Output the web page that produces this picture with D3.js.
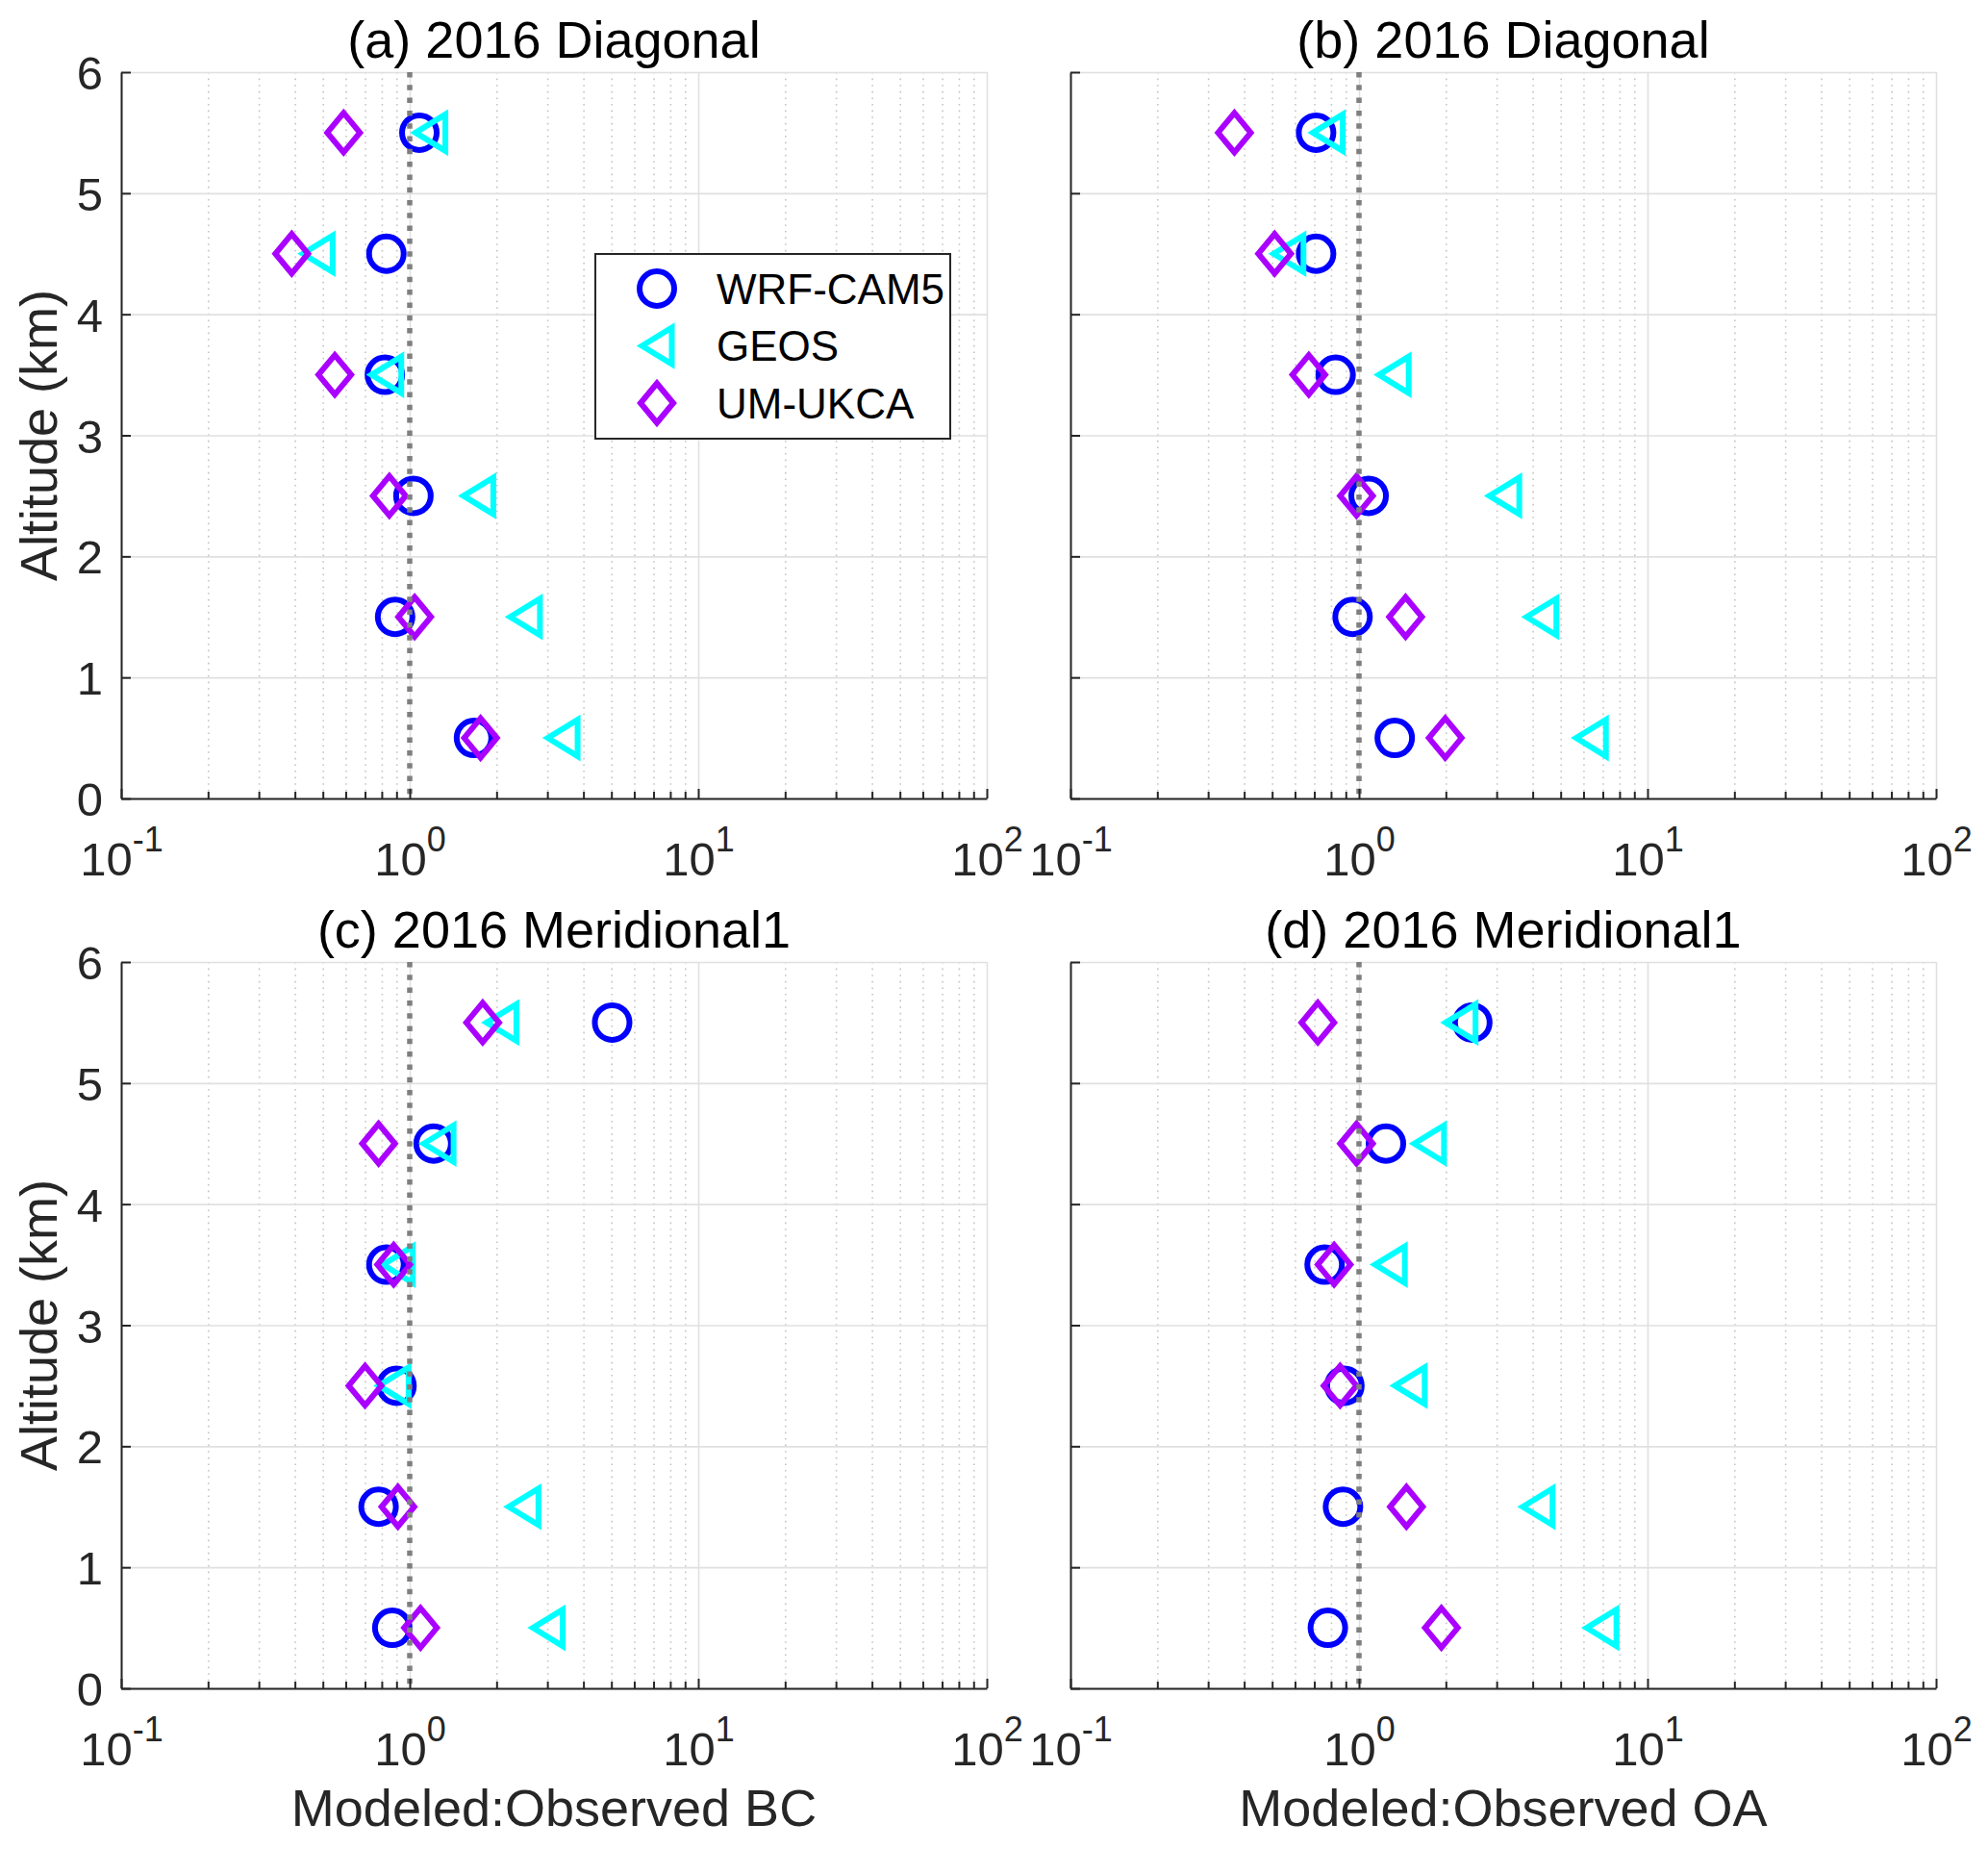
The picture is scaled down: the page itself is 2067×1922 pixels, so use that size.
<!DOCTYPE html>
<html>
<head>
<meta charset="utf-8">
<title>Modeled:Observed ratios by altitude</title>
<script src="https://d3js.org/d3.v7.min.js"></script>
<style>
  body { margin: 0; background: #fff; }
  svg { display: block; font-family: "Liberation Sans", Arial, Helvetica, sans-serif; }
</style>
</head>
<body>
<div id="chart"></div>
<script>
// altitude bins (km), one marker per model per bin
var altitudeKm = [0.5, 1.5, 2.5, 3.5, 4.5, 5.5];
var modelNames = ["WRF-CAM5", "GEOS", "UM-UKCA"];
var panelTitles = ["(a) 2016 Diagonal", "(b) 2016 Diagonal", "(c) 2016 Meridional1", "(d) 2016 Meridional1"];
var xAxisTitles = ["", "", "Modeled:Observed BC", "Modeled:Observed OA"];

// modeled:observed ratios, bottom (0.5 km) to top (5.5 km)
// (a) BC, diagonal
var wrfA  = [1.67, 0.89, 1.03, 0.82, 0.83, 1.08];
var geosA = [3.39, 2.51, 1.73, 0.83, 0.48, 1.18];
var umA   = [1.76, 1.04, 0.85, 0.55, 0.39, 0.59];
// (b) OA, diagonal
var wrfB  = [1.33, 0.95, 1.08, 0.83, 0.71, 0.71];
var geosB = [6.37, 4.29, 3.19, 1.32, 0.57, 0.78];
var umB   = [1.99, 1.45, 0.98, 0.67, 0.51, 0.37];
// (c) BC, meridional1
var wrfC  = [0.87, 0.78, 0.90, 0.83, 1.21, 5.03];
var geosC = [3.01, 2.48, 0.88, 0.91, 1.26, 2.08];
var umC   = [1.09, 0.91, 0.70, 0.88, 0.78, 1.79];
// (d) OA, meridional1
var wrfD  = [0.78, 0.88, 0.89, 0.76, 1.24, 2.47];
var geosD = [6.93, 4.16, 1.50, 1.28, 1.75, 2.25];
var umD   = [1.93, 1.46, 0.86, 0.82, 0.98, 0.72];

var xTicks = [0.1, 1, 10, 100];
var xTickExponents = ["-1", "0", "1", "2"];
var yTicks = [0, 1, 2, 3, 4, 5, 6];
var refRatio = 1;

var panelSeries = [
    [wrfA, geosA, umA],
    [wrfB, geosB, umB],
    [wrfC, geosC, umC],
    [wrfD, geosD, umD]
];

var modelColors = ["#0000ff", "#00ffff", "#aa00ff"];
var modelShapes = ["circle", "triangle", "diamond"];

var W = 2067, H = 1922;
var plotW = 900, plotH = 755;
var lefts = [126, 1113], tops = [75, 1000];
var axisColor = "#262626";

var svg = d3.select("#chart").append("svg")
    .attr("width", W)
    .attr("height", H);

svg.append("rect").attr("width", W).attr("height", H).attr("fill", "#fff");

// minor tick positions 2..9 in each decade
var minorTicks = [];
[0.1, 1, 10].forEach(function (d) {
    for (var k = 2; k <= 9; k++) minorTicks.push(+(d * k).toPrecision(3));
});

function drawMarker(sel, shape, color) {
    if (shape === "circle") {
        sel.append("circle").attr("r", 18)
            .attr("fill", "none").attr("stroke", color).attr("stroke-width", 6);
    } else if (shape === "triangle") {
        sel.append("path").attr("d", "M-15.5,0L15.5,-19L15.5,19Z")
            .attr("fill", "none").attr("stroke", color).attr("stroke-width", 6)
            .attr("stroke-linejoin", "miter");
    } else {
        sel.append("path").attr("d", "M0,-20.5L17,0L0,20.5L-17,0Z")
            .attr("fill", "none").attr("stroke", color).attr("stroke-width", 6)
            .attr("stroke-linejoin", "miter");
    }
}

panelSeries.forEach(function (series, i) {
    var col = i % 2, row = Math.floor(i / 2);
    var left = lefts[col], top = tops[row];

    var x = d3.scaleLog().domain([0.1, 100]).range([0, plotW]);
    var y = d3.scaleLinear().domain([0, 6]).range([plotH, 0]);

    var g = svg.append("g").attr("transform", "translate(" + left + "," + top + ")");

    // minor grid (dotted)
    var gMinor = g.append("g")
        .call(d3.axisBottom(x).tickValues(minorTicks).tickSize(plotH).tickFormat(""));
    gMinor.select(".domain").remove();
    gMinor.selectAll("line").attr("stroke", "#c4c4c4").attr("stroke-width", 1.6)
        .attr("stroke-dasharray", "1.6,5");

    // major grid
    var gMajX = g.append("g")
        .call(d3.axisBottom(x).tickValues(xTicks).tickSize(plotH).tickFormat(""));
    gMajX.select(".domain").remove();
    gMajX.selectAll("line").attr("stroke", "#e0e0e0").attr("stroke-width", 1.6);

    var gMajY = g.append("g")
        .call(d3.axisLeft(y).tickValues(yTicks).tickSize(-plotW).tickFormat(""));
    gMajY.select(".domain").remove();
    gMajY.selectAll("line").attr("stroke", "#e0e0e0").attr("stroke-width", 1.6);

    // markers: WRF-CAM5, then GEOS, then UM-UKCA on top
    series.forEach(function (vals, m) {
        var pts = altitudeKm.map(function (a, k) { return { alt: a, r: vals[k] }; });
        g.append("g").selectAll("g")
            .data(pts)
            .join("g")
            .attr("transform", function (d) { return "translate(" + x(d.r) + "," + y(d.alt) + ")"; })
            .each(function () { drawMarker(d3.select(this), modelShapes[m], modelColors[m]); });
    });

    // 1:1 reference line
    g.append("line")
        .attr("x1", x(refRatio)).attr("x2", x(refRatio))
        .attr("y1", y(6)).attr("y2", y(0))
        .attr("stroke", "#7f7f7f").attr("stroke-width", 5.5)
        .attr("stroke-dasharray", "5.5,7.8");

    // x minor ticks
    var gxm = g.append("g").attr("transform", "translate(0," + plotH + ")")
        .call(d3.axisBottom(x).tickValues(minorTicks).tickSizeInner(-7).tickSizeOuter(0).tickFormat(""));
    gxm.select(".domain").remove();
    gxm.selectAll("line").attr("stroke", axisColor).attr("stroke-width", 2);

    // x axis
    var gx = g.append("g").attr("transform", "translate(0," + plotH + ")")
        .call(d3.axisBottom(x).tickValues(xTicks).tickSizeInner(-10).tickSizeOuter(0).tickFormat(""));
    gx.select(".domain").attr("stroke", axisColor).attr("stroke-width", 2);
    gx.selectAll("line").attr("stroke", axisColor).attr("stroke-width", 2);
    gx.selectAll(".tick text").remove();
    gx.selectAll(".tick").append("text")
        .attr("y", 80)
        .attr("text-anchor", "middle")
        .attr("fill", axisColor)
        .style("font-size", "49px")
        .each(function (d) {
            var t = d3.select(this);
            t.append("tspan").text("10");
            t.append("tspan").attr("dy", -25).style("font-size", "36px")
                .text(xTickExponents[xTicks.indexOf(d)]);
        });

    // y axis
    var gy = g.append("g")
        .call(d3.axisLeft(y).tickValues(yTicks).tickSizeInner(-10).tickSizeOuter(0).tickPadding(19)
            .tickFormat(col === 0 ? d3.format("d") : ""));
    gy.select(".domain").attr("stroke", axisColor).attr("stroke-width", 2);
    gy.selectAll("line").attr("stroke", axisColor).attr("stroke-width", 2);
    gy.selectAll("text")
        .attr("dy", "0.36em")
        .attr("fill", axisColor)
        .style("font-size", "49px")
        .style("font-family", null);
    gx.attr("font-family", null);
    gy.attr("font-family", null).attr("font-size", null);
    gx.attr("font-size", null);

    // title
    g.append("text")
        .attr("x", plotW / 2).attr("y", -15)
        .attr("text-anchor", "middle")
        .attr("fill", "#000")
        .style("font-size", "54px")
        .text(panelTitles[i]);

    // y label (left column)
    if (col === 0) {
        svg.append("text")
            .attr("transform", "translate(59," + (top + plotH / 2) + ") rotate(-90)")
            .attr("text-anchor", "middle")
            .attr("fill", axisColor)
            .style("font-size", "54px")
            .text("Altitude (km)");
    }

    // x label (bottom row)
    if (xAxisTitles[i]) {
        g.append("text")
            .attr("x", plotW / 2).attr("y", plotH + 143)
            .attr("text-anchor", "middle")
            .attr("fill", axisColor)
            .style("font-size", "54px")
            .text(xAxisTitles[i]);
    }

    // legend in panel (a)
    if (i === 0) {
        var lg = g.append("g").attr("transform", "translate(493,189)");
        lg.append("rect")
            .attr("width", 369).attr("height", 192)
            .attr("fill", "#fff").attr("stroke", axisColor).attr("stroke-width", 2);
        var rowY = d3.scalePoint().domain(modelNames).range([36, 155]);
        modelNames.forEach(function (name, m) {
            var item = lg.append("g").attr("transform", "translate(64," + rowY(name) + ")");
            drawMarker(item, modelShapes[m], modelColors[m]);
            lg.append("text")
                .attr("x", 126).attr("y", rowY(name))
                .attr("dy", "0.36em")
                .attr("fill", "#000")
                .style("font-size", "44px")
                .text(name);
        });
    }
});
</script>
</body>
</html>
